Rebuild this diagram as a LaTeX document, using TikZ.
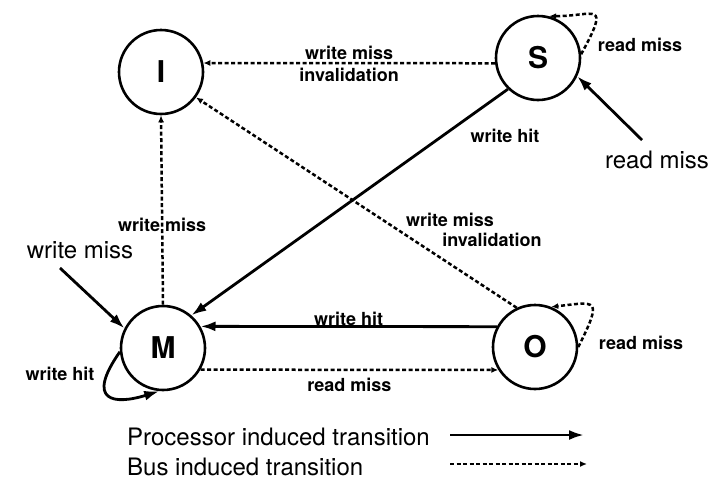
\documentclass[tikz,border=0pt]{standalone}
\usepackage{fontspec}
\setmainfont{TeX Gyre Heros}
\usetikzlibrary{arrows.meta}

\begin{document}
\begin{tikzpicture}[x=1pt, y=-1pt,
    state/.style={circle, draw, line width=2.6pt, minimum size=84pt, inner sep=0pt, font=\fontsize{30}{30}\selectfont\bfseries},
    proc/.style={line width=2.8pt, -{Latex[length=15pt,width=10pt]}},
    bus/.style={line width=2.5pt, dash pattern=on 4pt off 2.5pt, -{Latex[length=7pt,width=6pt]}},
    lbl/.style={font=\fontsize{18}{18}\selectfont\bfseries, inner sep=1pt},
    biglbl/.style={font=\fontsize{24}{24}\selectfont, inner sep=1pt}]
    \useasboundingbox (0,0) rectangle (709,485);

    \node [state] (I) at (161,72) {I};
    \node [state] (S) at (538,58) {S};
    \node [state] (M) at (163,348) {M};
    \node [state] (O) at (535,347) {O};

    \coordinate (rmS) at (642,140);
    \coordinate (wmM) at (60,268);

    % bus induced
    \draw[bus] (S.187) -- node[lbl, above=1pt] {write miss} node[lbl, below=3pt] {invalidation} (I.12);
    \draw[bus] (S.5) .. controls +(30,-55) and +(45,0) .. (S.75);
    \draw[bus] (M.90) -- node[lbl, pos=.42] {write miss} (I.270);
    \draw[bus] (O.115) -- (I.324);
    \draw[bus] (M.330) -- node[lbl, below=6pt] {read miss} (O.212);
    \draw[bus] (O.0) .. controls +(25,-50) and +(45,-5) .. (O.68);

    % processor induced
    \draw[proc] (S.226) -- (M.49);
    \draw[proc] (O.152) -- node[lbl, above=-2pt] {write hit} (M.30);
    \draw[proc] (M.185) .. controls +(-35,50) and +(-45,14) .. (M.265);
    \draw[proc] (rmS) -- (S.335);
    \draw[proc] (wmM) -- (M.153);

    % labels
    \node [lbl] (rmSloop) at (640,45) {read miss};
    \node [lbl] (whS) at (505,136) {write hit};
    \node [lbl] (wmO) at (450,220) {write miss};
    \node [lbl] (invO) at (492,240) {invalidation};
    \node [lbl] (rmOloop) at (641,343) {read miss};
    \node [lbl] (whM) at (60,374) {write hit};
    \node [biglbl] (rmSext) at (657,160) {read miss};
    \node [biglbl] (wmMext) at (80,250) {write miss};

    % legend
    \node [biglbl, anchor=west] (procleg) at (126,437) {Processor induced transition};
    \node [biglbl, anchor=west] (busleg) at (126,467) {Bus induced transition};
    \coordinate (p1) at (450,435);
    \coordinate (p2) at (584,435);
    \coordinate (b1) at (450,464);
    \coordinate (b2) at (587,464);
    \draw[proc] (p1) -- (p2);
    \draw[bus] (b1) -- (b2);
\end{tikzpicture}
\end{document}
